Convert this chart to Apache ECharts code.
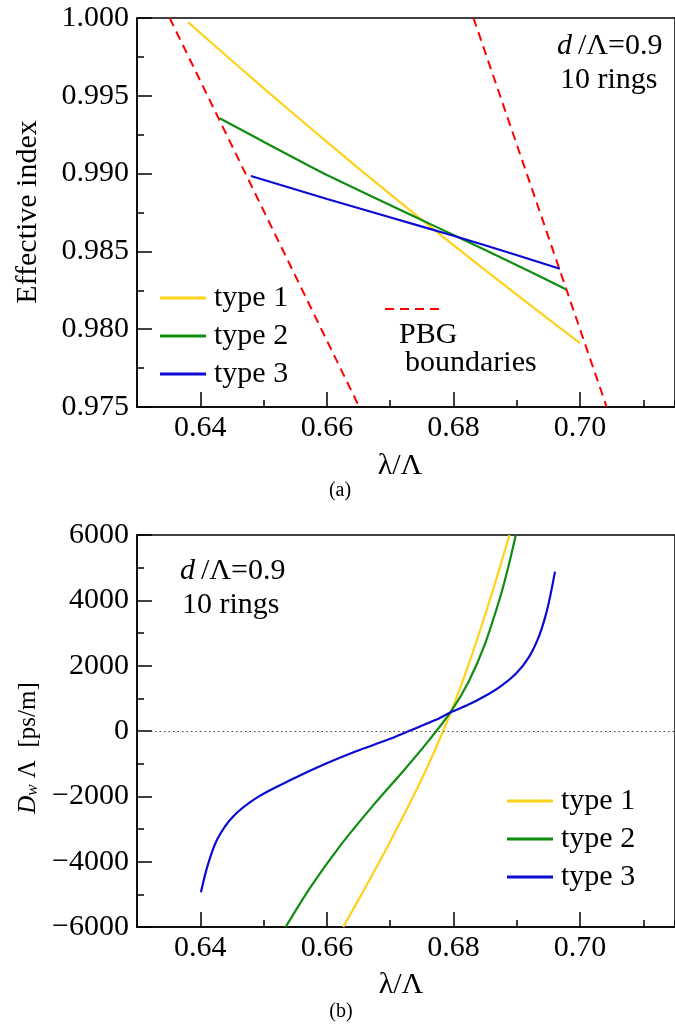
<!DOCTYPE html>
<html><head><meta charset="utf-8">
<script src="https://cdn.jsdelivr.net/npm/echarts@6/dist/echarts.min.js"></script>
<style>html,body{margin:0;padding:0;background:#fff}#c{width:675px;height:1024px}</style>
</head><body><div id="c"></div>
<script>
// ---- data ----
const xTickValues = [0.64, 0.66, 0.68, 0.70];
const seriesNames = ['type 1', 'type 2', 'type 3'];
// (a) effective index vs lambda/Lambda
const neffType1 = [[0.6381,0.99972],[0.645,0.99725],[0.655,0.99375],[0.665,0.99034],[0.675,0.98702],[0.685,0.98379],[0.695,0.98065],[0.700,0.97911]];
const neffType2 = [[0.64306,0.99356],[0.64943,0.99217],[0.66,0.98991],[0.67389,0.98723],[0.68,0.98605],[0.69019,0.98408],[0.69783,0.98255]];
const neffType3 = [[0.648,0.98985],[0.66003,0.98837],[0.66981,0.98721],[0.68,0.98601],[0.69019,0.98474],[0.69682,0.98388]];
const pbgLower = [[0.63516,1.000],[0.66512,0.975]];
const pbgUpper = [[0.68316,1.000],[0.7042,0.975]];
// (b) waveguide dispersion D_w * Lambda [ps/m]
const dispType1 = [[0.66258,-6000],[0.66604,-4806],[0.66959,-3537],[0.67468,-1590],[0.67722,-520],[0.67951,540],[0.68180,1713],[0.68383,2854],[0.68638,4404],[0.68884,6000]];
const dispType2 = [[0.65348,-6000],[0.65739,-4786],[0.66197,-3547],[0.66705,-2339],[0.67214,-1208],[0.67570,-387],[0.67951,571],[0.68231,1478],[0.68485,2599],[0.68739,4103],[0.68866,5021],[0.68985,6000]];
const dispType3 = [[0.64010,-4939],[0.64112,-4144],[0.64264,-3328],[0.64519,-2615],[0.64925,-2003],[0.65434,-1494],[0.65942,-1035],[0.66451,-627],[0.66959,-270],[0.67315,15],[0.67722,341],[0.67951,566],[0.68231,800],[0.68485,1055],[0.68739,1360],[0.68993,1768],[0.69197,2278],[0.69349,2890],[0.69451,3501],[0.69527,4113],[0.69604,4878]];

const colors = ['#FFD21A', '#108C10', '#0A0AD2'];
const FONT = '"Liberation Serif", "Times New Roman", serif';

const chart = echarts.init(document.getElementById('c'), null, {renderer: 'canvas'});

function xMain(gi) {
  return {
    gridIndex: gi, type: 'value', min: 0.63, max: 0.715, position: 'bottom',
    axisLine: {show: true, onZero: false, lineStyle: {color: '#000', width: 1.5}},
    axisTick: {show: true, inside: true, length: 15, customValues: xTickValues, lineStyle: {color: '#000', width: 1.5}},
    axisLabel: {customValues: xTickValues, formatter: v => v.toFixed(2), fontFamily: FONT, fontSize: 30, color: '#000', margin: 6},
    splitLine: {show: false}
  };
}
function xMinor(gi) {
  return {
    gridIndex: gi, type: 'value', min: 0.63, max: 0.715, interval: 0.01, position: 'bottom',
    axisLine: {show: false, onZero: false},
    axisTick: {show: true, inside: true, length: 7, lineStyle: {color: '#000', width: 1.5}},
    axisLabel: {show: false}, splitLine: {show: false}
  };
}
function yAxis(gi, min, max, interval, fmt) {
  return {
    gridIndex: gi, type: 'value', min: min, max: max, interval: interval,
    axisLine: {show: true, onZero: false, lineStyle: {color: '#000', width: 1.5}},
    axisTick: {show: true, inside: true, length: 15, lineStyle: {color: '#000', width: 1.5}},
    minorTick: {show: true, splitNumber: 2, length: 7, lineStyle: {color: '#000', width: 1.5}},
    axisLabel: {formatter: fmt, fontFamily: FONT, fontSize: 30, color: '#000', margin: 8},
    splitLine: {show: false}, minorSplitLine: {show: false}
  };
}
function lineSeries(name, data, xi, yi, color, smooth) {
  return {
    name: name, type: 'line', xAxisIndex: xi, yAxisIndex: yi, data: data,
    symbol: 'none', showSymbol: false, smooth: smooth,
    lineStyle: {color: color, width: 2.2}, itemStyle: {color: color}, z: 3
  };
}

const dispSeries3 = lineSeries('type 3', dispType3, 2, 1, colors[2], 0.3);
dispSeries3.markLine = {
  silent: true, symbol: 'none', label: {show: false},
  lineStyle: {type: [1.5, 3], color: '#444', width: 1},
  data: [{yAxis: 0}]
};

const legendBase = {
  data: seriesNames, orient: 'vertical', padding: 0, itemGap: 8, itemWidth: 46, itemHeight: 3, icon: 'rect',
  textStyle: {fontFamily: FONT, fontSize: 30, color: '#000', padding: [0, 0, 0, 3]}, selectedMode: false
};

const option = {
  animation: false,
  backgroundColor: '#fff',
  grid: [
    {left: 137, top: 18, width: 555, height: 389, show: true, borderColor: '#000', borderWidth: 1.5, backgroundColor: 'transparent'},
    {left: 137, top: 535, width: 557, height: 392, show: true, borderColor: '#000', borderWidth: 1.5, backgroundColor: 'transparent'}
  ],
  xAxis: [xMain(0), xMinor(0), xMain(1), xMinor(1)],
  yAxis: [
    yAxis(0, 0.975, 1.0, 0.005, v => v.toFixed(3)),
    yAxis(1, -6000, 6000, 2000, v => (v < 0 ? '\u2212' + Math.abs(v) : String(v)))
  ],
  legend: [
    Object.assign({}, legendBase, {left: 160, top: 283}),
    Object.assign({}, legendBase, {left: 507, top: 786})
  ],
  series: [
    {name: 'PBG boundaries', type: 'line', xAxisIndex: 0, yAxisIndex: 0, data: pbgLower, symbol: 'none',
     lineStyle: {color: '#FF0000', width: 2, type: [9, 6]}, z: 2},
    {name: 'PBG boundaries', type: 'line', xAxisIndex: 0, yAxisIndex: 0, data: pbgUpper, symbol: 'none',
     lineStyle: {color: '#FF0000', width: 2, type: [9, 6]}, z: 2},
    lineSeries('type 1', neffType1, 0, 0, colors[0], 0.15),
    lineSeries('type 2', neffType2, 0, 0, colors[1], 0.15),
    lineSeries('type 3', neffType3, 0, 0, colors[2], 0.15),
    lineSeries('type 1', dispType1, 2, 1, colors[0], 0.3),
    lineSeries('type 2', dispType2, 2, 1, colors[1], 0.3),
    dispSeries3
  ],
  graphic: [
    {type: 'text', x: 28, y: 212, rotation: Math.PI / 2,
     style: {text: 'Effective index', font: '30px ' + FONT, fill: '#000', align: 'center', verticalAlign: 'middle'}},
    {type: 'text', x: 28, y: 748, rotation: Math.PI / 2,
     style: {text: '{i|D}{s|w} Λ  [ps/m]', font: '25px ' + FONT, fill: '#000', align: 'center', verticalAlign: 'middle',
       rich: {i: {fontFamily: FONT, fontSize: 25, fontStyle: 'italic', fill: '#000'},
              s: {fontFamily: FONT, fontSize: 17, fontStyle: 'italic', fill: '#000', verticalAlign: 'bottom', padding: [10, 0, 0, 0]}}}},
    {type: 'text', x: 400, y: 466,
     style: {text: 'λ/Λ', font: '30px ' + FONT, fill: '#000', align: 'center', verticalAlign: 'middle'}},
    {type: 'text', x: 340, y: 491,
     style: {text: '(a)', font: '20px ' + FONT, fill: '#000', align: 'center', verticalAlign: 'middle'}},
    {type: 'text', x: 401, y: 985,
     style: {text: 'λ/Λ', font: '30px ' + FONT, fill: '#000', align: 'center', verticalAlign: 'middle'}},
    {type: 'text', x: 341, y: 1012,
     style: {text: '(b)', font: '20px ' + FONT, fill: '#000', align: 'center', verticalAlign: 'middle'}},
    {type: 'text', x: 557, y: 46,
     style: {text: '{i|d}\u2009/Λ=0.9', font: '30px ' + FONT, fill: '#000', align: 'left', verticalAlign: 'middle',
       rich: {i: {fontFamily: FONT, fontSize: 30, fontStyle: 'italic', fill: '#000'}}}},
    {type: 'text', x: 560, y: 80,
     style: {text: '10 rings', font: '30px ' + FONT, fill: '#000', align: 'left', verticalAlign: 'middle'}},
    {type: 'text', x: 180, y: 571,
     style: {text: '{i|d}\u2009/Λ=0.9', font: '30px ' + FONT, fill: '#000', align: 'left', verticalAlign: 'middle',
       rich: {i: {fontFamily: FONT, fontSize: 30, fontStyle: 'italic', fill: '#000'}}}},
    {type: 'text', x: 182, y: 605,
     style: {text: '10 rings', font: '30px ' + FONT, fill: '#000', align: 'left', verticalAlign: 'middle'}},
    {type: 'line', shape: {x1: 385, y1: 309, x2: 440, y2: 309},
     style: {stroke: '#FF0000', lineWidth: 2, lineDash: [9, 6]}},
    {type: 'text', x: 399, y: 335,
     style: {text: 'PBG', font: '30px ' + FONT, fill: '#000', align: 'left', verticalAlign: 'middle'}},
    {type: 'text', x: 405, y: 363,
     style: {text: 'boundaries', font: '30px ' + FONT, fill: '#000', align: 'left', verticalAlign: 'middle'}}
  ]
};
chart.setOption(option);
</script>
</body></html>
